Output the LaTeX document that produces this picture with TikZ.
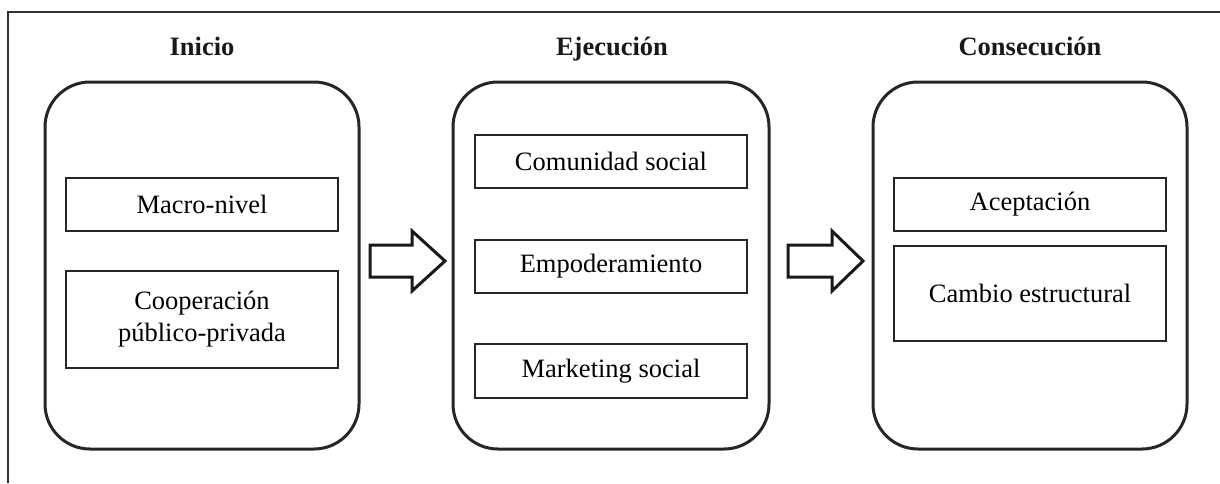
\documentclass[tikz,border=0pt]{standalone}
\usepackage{fontspec}
\setmainfont{Liberation Serif}
\begin{document}
\begin{tikzpicture}[x=1pt,y=-1pt,
  bigbox/.style={draw=black!85, line width=3pt, rounded corners=45pt, minimum width=314pt, minimum height=367pt, inner sep=0pt},
  itembox/.style={draw=black!85, line width=2pt, minimum width=272pt, inner sep=0pt, align=center, font=\fontsize{26.5}{32}\selectfont},
  title/.style={font=\fontsize{26.5}{31}\selectfont\bfseries, text=black!90, anchor=base, inner sep=0pt},
  blockarrow/.style={draw=black!90, line width=3pt, line join=miter, fill=white}]
\useasboundingbox (0,0) rectangle (1220,483);
\draw[line width=1.2pt, black!80] (1220,12) -- (8,12) -- (8,483);

\node[title] (t1) at (202,55) {Inicio};
\node[title] (t2) at (612,55) {Ejecución};
\node[title] (t3) at (1030,55) {Consecución};

\node[bigbox] (b1) at (202,265.5) {};
\node[bigbox, minimum width=316pt] (b2) at (611,265.5) {};
\node[bigbox] (b3) at (1030,265.5) {};

\node[itembox, minimum height=53pt] (m1) at (202,204.5) {Macro-nivel};
\node[itembox, minimum height=97pt] (m2) at (202,319.5) {Cooperación\\público-privada};

\node[itembox, minimum height=53pt] (e1) at (611,161.5) {Comunidad social};
\node[itembox, minimum height=53pt] (e2) at (611,266.5) {Empoderamiento};
\node[itembox, minimum height=54pt] (e3) at (611,371) {Marketing social};

\node[itembox, minimum height=53pt] (c1) at (1030,204.5) {Aceptación};
\node[itembox, minimum height=95pt] (c2) at (1030,293.5) {Cambio estructural};

\draw[blockarrow] (370,245) -- (412,245) -- (412,231) -- (445,261) -- (412,291) -- (412,277) -- (370,277) -- cycle;
\draw[blockarrow] (788,245) -- (832,245) -- (832,231) -- (863,261) -- (832,291) -- (832,277) -- (788,277) -- cycle;
\end{tikzpicture}
\end{document}
